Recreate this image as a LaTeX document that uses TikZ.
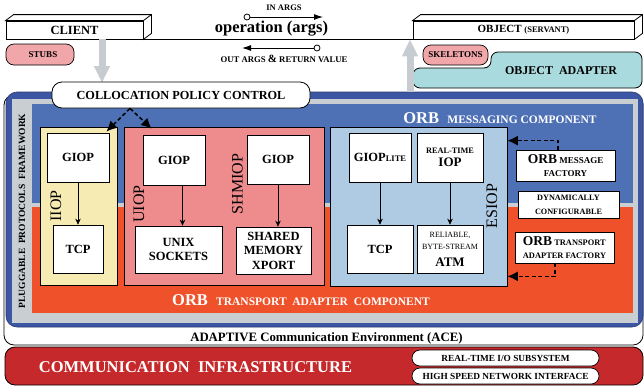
\documentclass[tikz,border=0pt]{standalone}
\usepackage{fontspec}
\setmainfont{Liberation Serif}
\usetikzlibrary{arrows.meta,calc}
\definecolor{outerblue}{HTML}{3C56A3}
\definecolor{msgblue}{HTML}{4E70B5}
\definecolor{framegray}{HTML}{C8CED2}
\definecolor{xportorange}{HTML}{EF512A}
\definecolor{iiopyellow}{HTML}{F5EBB3}
\definecolor{uioppink}{HTML}{EE8B8D}
\definecolor{esiopblue}{HTML}{AFCAE3}
\definecolor{infrared}{HTML}{C6292B}
\definecolor{adapterteal}{HTML}{A9DADD}
\definecolor{stubpink}{HTML}{F1A7AA}
\definecolor{arrowgray}{HTML}{C6CCD0}
\newcommand\fsz[2]{\fontsize{#1}{#2}\selectfont}
\begin{document}
\begin{tikzpicture}[x=1pt,y=-1pt,
  wbox/.style={draw,fill=white,line width=0.7pt,inner sep=0pt,align=center,font=\bfseries\fsz{12.5}{14}},
  region/.style={draw,line width=0.7pt,inner sep=0pt},
  layer/.style={inner sep=0pt},
  link/.style={-{Stealth[length=6pt,width=5.5pt]},line width=0.7pt},
  dashlink/.style={-{Latex[length=10.5pt,width=10pt]},line width=1.5pt,dash pattern=on 4pt off 2.5pt},
  bigarrow/.style={line width=7pt,draw=arrowgray,-{Triangle[length=17pt,width=15pt]}},
  pill/.style={draw,line width=0.7pt,rounded corners=8pt,inner sep=0pt,align=center,font=\bfseries},
  rotlabel/.style={rotate=90,inner sep=0pt,font=\fsz{16}{18}},
  whitelabel/.style={text=white,inner sep=0pt,font=\bfseries},
]
\useasboundingbox (0,0) rectangle (644,386);

% ---------- client / object layer ----------
\node[draw,fill=white,line width=0.8pt,minimum width=137pt,minimum height=18pt,inner sep=0pt,
      font=\bfseries\fsz{12.5}{14}] (client) at (74.5,30) {CLIENT};
\filldraw[fill=white,line width=0.8pt] (client.north west) -- ++(8,-6) -| ($(client.south east)+(8,-6)$)
   -- (client.south east) -- (client.north east) -- cycle;
\draw[line width=0.8pt] (client.north east) -- ++(8,-6);

\node[draw,fill=white,line width=0.8pt,minimum width=221pt,minimum height=18pt,inner sep=0pt,
      font=\bfseries\fsz{11}{13}] (object) at (523.5,30) {OBJECT {\fsz{8.5}{10}(SERVANT)}};
\filldraw[fill=white,line width=0.8pt] (object.north west) -- ++(8,-6) -| ($(object.south east)+(8,-6)$)
   -- (object.south east) -- (object.north east) -- cycle;
\draw[line width=0.8pt] (object.north east) -- ++(8,-6);

\draw[line width=0.8pt] (client.south west) -- (object.south east);

% request / reply
\node[inner sep=0pt,font=\bfseries\fsz{8.5}{10}] (inargs) at (284,8) {IN ARGS};
\node[inner sep=0pt,font=\bfseries\fsz{16.5}{18}] (oper) at (271.5,29) {operation (args)};
\node[inner sep=0pt,font=\bfseries\fsz{8.7}{10}] (outargs) at (284,59) {OUT ARGS {\fsz{11}{12}\&} RETURN VALUE};
\coordinate (inA) at (247,17);
\coordinate (inB) at (323,17);
\coordinate (outA) at (317,48);
\coordinate (outB) at (242,48);
\draw[line width=0.9pt,-{Latex[length=9pt,width=6pt]}] (inA) -- (inB);
\draw[line width=0.9pt,-{Latex[length=9pt,width=6pt]}] (outA) -- (outB);
\filldraw[fill=white,line width=0.8pt] (inA) circle[radius=3pt];
\filldraw[fill=white,line width=0.8pt] (outA) circle[radius=3pt];

\node[pill,fill=stubpink,minimum width=68pt,minimum height=21pt,font=\bfseries\fsz{9}{10}] (stubs) at (40,54.5) {\hspace*{6pt}STUBS};

% object adapter
\filldraw[fill=adapterteal,line width=0.8pt,rounded corners=7pt]
  (413,88) -- (413,68) -- (491,68) -- (491,52) -- (642,52) -- (642,88) -- cycle;
\node[inner sep=0pt,font=\bfseries\fsz{12}{14}] (oatext) at (561,71) {OBJECT\ \ ADAPTER};
\node[pill,fill=stubpink,minimum width=65pt,minimum height=20pt,font=\bfseries\fsz{9}{10}] (skel) at (455.5,55) {SKELETONS};

% ---------- ACE and ORB frames ----------
\node[layer,draw,fill=white,line width=0.8pt,rounded corners=10pt,minimum width=639pt,minimum height=250pt] (ace) at (323.5,220) {};
\node[layer,draw=outerblue!70!black,fill=outerblue,line width=0.6pt,rounded corners=11pt,minimum width=637pt,minimum height=235pt] (orb) at (324.5,209.5) {};
\node[layer,fill=framegray,minimum width=626pt,minimum height=224pt] (ppfw) at (325,211) {};
\node[layer,fill=msgblue,minimum width=601pt,minimum height=99pt] (msg) at (332.5,153.5) {};
\node[layer,fill=xportorange,minimum width=601pt,minimum height=106pt] (xport) at (332.5,260) {};

\node[rotlabel,font=\bfseries\fsz{9.5}{11}] (ppflbl) at (22,211) {PLUGGABLE\ \ PROTOCOLS\ \ FRAMEWORK};
\node[whitelabel] (msglbl) at (500,118) {\fsz{16.5}{18}ORB\ \ \fsz{11.5}{13}MESSAGING COMPONENT};
\node[whitelabel] (xportlbl) at (301,300) {\fsz{16.5}{18}ORB\ \ \fsz{11.5}{13}TRANSPORT\ \ ADAPTER\ \ COMPONENT};
\node[inner sep=0pt,font=\bfseries\fsz{12.8}{14}] (acelbl) at (326.5,338) {ADAPTIVE Communication Environment (ACE)};

% ---------- gray flow arrows ----------
\coordinate (cdrop) at (102,39);
\coordinate (orise) at (410,92);
\draw[bigarrow] (cdrop) -- (cdrop |- 0,83);
\draw[bigarrow] (orise) -- (orise |- object.south);

\node[draw,fill=white,line width=0.8pt,rounded corners=10pt,minimum width=258pt,minimum height=26pt,inner sep=0pt,
      font=\bfseries\fsz{12.3}{15}] (colloc) at (181,95) {COLLOCATION POLICY CONTROL};

% ---------- protocol regions ----------
\node[region,fill=iiopyellow,minimum width=77pt,minimum height=158pt] (iiop) at (78.5,206) {};
\node[region,fill=uioppink,minimum width=200pt,minimum height=158pt] (uiop) at (224,206) {};
\node[region,fill=esiopblue,minimum width=177pt,minimum height=159pt] (esiop) at (418.5,206.5) {};

\node[wbox,minimum width=62pt,minimum height=49pt] (giopa) at (78,157.5) {GIOP};
\node[wbox,minimum width=50pt,minimum height=48pt] (tcpa) at (78,249) {TCP};
\node[rotlabel] (iioplbl) at (56,206) {IIOP};

\node[wbox,minimum width=62pt,minimum height=50pt] (giopb) at (174,160) {GIOP};
\node[wbox,minimum width=87pt,minimum height=47pt] (unix) at (178.5,249.5) {UNIX\\SOCKETS};
\node[rotlabel] (uioplbl) at (139,204) {UIOP};

\node[wbox,minimum width=62pt,minimum height=49pt] (giopc) at (278,159.5) {GIOP};
\node[wbox,minimum width=75pt,minimum height=47pt,font=\bfseries\fsz{12.5}{14.5}] (shm) at (273.5,250.5) {SHARED\\MEMORY\\XPORT};
\node[rotlabel] (shmlbl) at (237.5,184) {SHMIOP};

\node[wbox,minimum width=62pt,minimum height=49pt] (giopl) at (380,157.5) {GIOP{\fsz{8.5}{10}LITE}};
\node[wbox,minimum width=66pt,minimum height=49pt,font=\bfseries\fsz{8.3}{13}] (rtiop) at (450,157.5) {REAL-TIME\\{\fsz{13}{13}IOP}};
\node[wbox,minimum width=66pt,minimum height=48pt] (tcpb) at (380,249) {TCP};
\node[wbox,minimum width=66pt,minimum height=48pt,font=\fsz{8}{12}] (atm) at (450,249) {RELIABLE,\\BYTE-STREAM\\[5pt]{\bfseries\fsz{13}{13}ATM}};
\node[rotlabel] (esioplbl) at (492,206) {ESIOP};

\draw[link] (giopa) -- (tcpa);
\draw[link] ([xshift=8.5pt]giopb.south) -- ([xshift=8.5pt]giopb.south |- unix.north);
\draw[link] (giopc.south) -- (giopc.south |- shm.north);
\draw[link] (giopl) -- (tcpb);
\draw[link] (rtiop) -- (atm);

% ---------- factories ----------
\node[wbox,minimum width=99pt,minimum height=31pt,font=\bfseries\fsz{9}{13}] (omf) at (565.5,165.5) {{\fsz{13.5}{13}ORB} MESSAGE\\FACTORY};
\node[wbox,minimum width=101pt,minimum height=27pt,font=\bfseries\fsz{8.2}{14}] (dyn) at (568.5,204.5) {DYNAMICALLY\\CONFIGURABLE};
\node[wbox,minimum width=99pt,minimum height=31pt,align=left,font=\bfseries\fsz{8.4}{13}] (otaf) at (564.5,247.5) {{\fsz{13.5}{13}ORB} TRANSPORT\\ADAPTER FACTORY};

\draw[dashlink] ($(omf.north)+(-7.5,0)$) |- ($(esiop.north east)+(0,14)$);
\draw[dashlink] ($(otaf.south)+(-9.5,0)$) |- ($(esiop.south east)+(0,-10)$);

\draw[dashlink] ($(colloc.south)+(-51,0)$) -- ($(giopa.north east)+(-3,-1)$);
\draw[dashlink] ($(colloc.south)+(-51,0)$) -- ($(giopb.north west)+(9,-6)$);

% ---------- communication infrastructure ----------
\node[layer,draw,fill=infrared,line width=0.8pt,rounded corners=10pt,minimum width=638pt,minimum height=38pt] (infra) at (324,366) {};
\node[whitelabel,font=\bfseries\fsz{16.5}{18}] (infralbl) at (195.5,367) {COMMUNICATION\ \ INFRASTRUCTURE};
\node[pill,fill=white,minimum width=187pt,minimum height=16pt,font=\bfseries\fsz{9.3}{10}] (rtio) at (505.5,358) {REAL-TIME I/O SUBSYSTEM};
\node[pill,fill=white,minimum width=187pt,minimum height=16pt,font=\bfseries\fsz{9.3}{10}] (hsni) at (505.5,376) {HIGH SPEED NETWORK INTERFACE};
\end{tikzpicture}
\end{document}
